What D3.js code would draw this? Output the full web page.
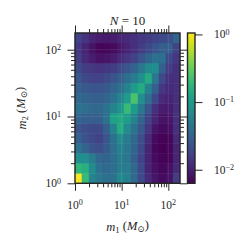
<!DOCTYPE html>
<html>
<head>
<meta charset="utf-8">
<script src="https://cdn.jsdelivr.net/npm/d3@7"></script>
<style>
body { margin: 0; background: #fff; }
svg { display: block; }
text { font-family: "Liberation Serif", "DejaVu Serif", serif; fill: #262626; }
</style>
</head>
<body>
<script>
// bin edges (solar masses), same for m1 and m2
var binEdges = [1, 1.41, 2, 2.82, 3.98, 5.62, 7.94, 11.2, 15.8, 22.4, 31.6, 44.7, 63.1, 89.1, 125.9, 177.8];

// fraction per cell, one array per m2 bin (bottom to top), across m1 bins
var row0  = [1.0, 0.197, 0.062, 0.048, 0.039, 0.043, 0.068, 0.058, 0.035, 0.0193, 0.0116, 0.0085, 0.0073, 0.0081, 0.0156];
var row1  = [0.178, 0.16, 0.072, 0.043, 0.035, 0.039, 0.053, 0.053, 0.035, 0.0193, 0.0105, 0.0077, 0.0069, 0.0077, 0.0116];
var row2  = [0.079, 0.079, 0.053, 0.035, 0.032, 0.039, 0.053, 0.048, 0.0288, 0.0174, 0.0105, 0.0073, 0.0066, 0.0069, 0.0105];
var row3  = [0.043, 0.032, 0.0236, 0.0213, 0.026, 0.039, 0.058, 0.048, 0.032, 0.0193, 0.0105, 0.0069, 0.0063, 0.0069, 0.0105];
var row4  = [0.0288, 0.0224, 0.0193, 0.0174, 0.0236, 0.043, 0.072, 0.053, 0.035, 0.0213, 0.0116, 0.0073, 0.0066, 0.0069, 0.0116];
var row5  = [0.0236, 0.0213, 0.0193, 0.0193, 0.0288, 0.062, 0.145, 0.072, 0.043, 0.026, 0.0141, 0.0085, 0.0073, 0.0077, 0.0127];
var row6  = [0.032, 0.0288, 0.0288, 0.0288, 0.043, 0.118, 0.132, 0.107, 0.062, 0.032, 0.0174, 0.0105, 0.0081, 0.0085, 0.0127];
var row7  = [0.043, 0.039, 0.035, 0.035, 0.043, 0.062, 0.088, 0.197, 0.102, 0.048, 0.0236, 0.0127, 0.0094, 0.0094, 0.0127];
var row8  = [0.035, 0.032, 0.0288, 0.0288, 0.032, 0.043, 0.062, 0.102, 0.24, 0.079, 0.039, 0.0193, 0.0116, 0.0105, 0.0127];
var row9  = [0.0288, 0.026, 0.0236, 0.0236, 0.026, 0.032, 0.039, 0.062, 0.102, 0.145, 0.062, 0.0288, 0.0141, 0.0116, 0.0127];
var row10 = [0.0236, 0.0193, 0.0174, 0.0174, 0.0193, 0.0236, 0.0288, 0.039, 0.053, 0.079, 0.145, 0.048, 0.0193, 0.0127, 0.0127];
var row11 = [0.0193, 0.0156, 0.0141, 0.0135, 0.0141, 0.0156, 0.0193, 0.0236, 0.032, 0.048, 0.072, 0.079, 0.0288, 0.0156, 0.0127];
var row12 = [0.0156, 0.0116, 0.0094, 0.0081, 0.0085, 0.0094, 0.0116, 0.0141, 0.0174, 0.0236, 0.032, 0.043, 0.039, 0.0193, 0.0141];
var row13 = [0.0141, 0.0105, 0.0081, 0.0069, 0.0069, 0.0073, 0.0085, 0.0105, 0.0127, 0.0156, 0.0193, 0.0236, 0.0288, 0.0288, 0.0174];
var row14 = [0.0174, 0.0135, 0.0105, 0.0094, 0.0089, 0.0094, 0.0105, 0.0116, 0.0127, 0.0141, 0.0156, 0.0174, 0.0193, 0.0213, 0.032];
var rows = [row0, row1, row2, row3, row4, row5, row6, row7, row8, row9, row10, row11, row12, row13, row14];

var majorTicks = [1, 10, 100];
var majorExp = ["0", "1", "2"];
var colorTicks = [1, 0.1, 0.01];
var colorExp = ["0", "\u22121", "\u22122"];
var colorDomain = [0.0063, 1.05];

var width = 250;
var height = 250;
var pLeft = 75, pRight = 180, pTop = 33, pBottom = 183.3;
var ink = "#262626";

var svg = d3.select("body")
    .append("svg")
    .attr("width", width)
    .attr("height", height);

var x = d3.scaleLog().domain([binEdges[0], binEdges[binEdges.length - 1]]).range([pLeft, pRight]);
var y = d3.scaleLog().domain([binEdges[0], binEdges[binEdges.length - 1]]).range([pBottom, pTop]);
var color = d3.scaleSequentialLog(d3.interpolateViridis).domain(colorDomain);

// cells
var cells = [];
rows.forEach(function (r, j) {
    r.forEach(function (v, i) { cells.push({ i: i, j: j, v: v }); });
});

svg.append("g")
    .selectAll("rect")
    .data(cells)
    .enter()
    .append("rect")
    .attr("x", function (d) { return x(binEdges[d.i]); })
    .attr("y", function (d) { return y(binEdges[d.j + 1]); })
    .attr("width", function (d) { return x(binEdges[d.i + 1]) - x(binEdges[d.i]); })
    .attr("height", function (d) { return y(binEdges[d.j]) - y(binEdges[d.j + 1]); })
    .attr("fill", function (d) { return color(d.v); })
    .attr("stroke", function (d) { return color(d.v); })
    .attr("stroke-width", 0.4);

// faint grid at the major ticks
var grid = svg.append("g").attr("stroke", "#fff").attr("stroke-opacity", 0.12).attr("stroke-width", 0.8);
majorTicks.slice(1).forEach(function (t) {
    grid.append("line").attr("x1", x(t)).attr("x2", x(t)).attr("y1", pTop).attr("y2", pBottom);
    grid.append("line").attr("x1", pLeft).attr("x2", pRight).attr("y1", y(t)).attr("y2", y(t));
});

// ticks on all four sides, pointing out
var minorX = x.ticks().filter(function (t) { return majorTicks.indexOf(t) < 0; });
var minorY = y.ticks().filter(function (t) { return majorTicks.indexOf(t) < 0; });

function styleAxis(g) {
    g.select(".domain").remove();
    g.selectAll("line").attr("stroke", ink).attr("stroke-width", 1);
}

[[d3.axisBottom, x, "translate(0," + pBottom + ")", minorX],
 [d3.axisTop, x, "translate(0," + pTop + ")", minorX],
 [d3.axisLeft, y, "translate(" + pLeft + ",0)", minorY],
 [d3.axisRight, y, "translate(" + pRight + ",0)", minorY]].forEach(function (a) {
    svg.append("g").attr("transform", a[2])
        .call(a[0](a[1]).tickValues(majorTicks).tickSize(7.5).tickFormat(""))
        .call(styleAxis);
    svg.append("g").attr("transform", a[2])
        .call(a[0](a[1]).tickValues(a[3]).tickSize(4).tickFormat(""))
        .call(styleAxis);
});

svg.append("rect")
    .attr("x", pLeft).attr("y", pTop)
    .attr("width", pRight - pLeft).attr("height", pBottom - pTop)
    .attr("fill", "none").attr("stroke", ink).attr("stroke-width", 1.4);

function powLabel(sel, exp) {
    sel.append("tspan").text("10");
    sel.append("tspan").attr("dy", "-0.45em").attr("font-size", "70%").text(exp);
}

majorTicks.forEach(function (t, k) {
    svg.append("text")
        .attr("x", x(t)).attr("y", 208.5)
        .attr("text-anchor", "middle")
        .attr("font-size", 11.5)
        .call(powLabel, majorExp[k]);
    svg.append("text")
        .attr("x", 61).attr("y", y(t) + 4)
        .attr("text-anchor", "end")
        .attr("font-size", 11.5)
        .call(powLabel, majorExp[k]);
});

// colorbar
var cbX = 187.5, cbW = 7.5;
var cy = d3.scaleLog().domain(colorDomain).range([pBottom, pTop]);
var grad = svg.append("defs").append("linearGradient")
    .attr("id", "cbar").attr("x1", 0).attr("x2", 0).attr("y1", 1).attr("y2", 0);
d3.range(0, 1.0001, 0.05).forEach(function (f) {
    grad.append("stop").attr("offset", f).attr("stop-color", d3.interpolateViridis(f));
});
svg.append("rect")
    .attr("x", cbX).attr("y", pTop)
    .attr("width", cbW).attr("height", pBottom - pTop)
    .attr("fill", "url(#cbar)")
    .attr("stroke", ink).attr("stroke-width", 1.4);

svg.append("g").attr("transform", "translate(" + (cbX + cbW) + ",0)")
    .call(d3.axisRight(cy).tickValues(colorTicks).tickSize(7.5).tickFormat(""))
    .call(styleAxis);

colorTicks.forEach(function (t, k) {
    svg.append("text")
        .attr("x", 214).attr("y", cy(t) + 4)
        .attr("text-anchor", "start")
        .attr("font-size", 11.5)
        .call(powLabel, colorExp[k]);
});

// title and axis labels
var title = svg.append("text")
    .attr("x", (pLeft + pRight) / 2).attr("y", 24.5)
    .attr("text-anchor", "middle")
    .attr("font-size", 13);
title.append("tspan").attr("font-style", "italic").text("N");
title.append("tspan").text(" = 10");

function massLabel(sel, sub) {
    sel.append("tspan").attr("font-style", "italic").text("m");
    sel.append("tspan").attr("font-size", "70%").attr("dy", "0.25em").text(sub);
    sel.append("tspan").attr("dy", "-0.25em").text(" (");
    sel.append("tspan").attr("font-style", "italic").text("M");
    sel.append("tspan").attr("font-size", "70%").attr("dy", "0.25em").text("\u2299");
    sel.append("tspan").attr("dy", "-0.25em").text(")");
}

svg.append("text")
    .attr("x", (pLeft + pRight) / 2).attr("y", 231)
    .attr("text-anchor", "middle")
    .attr("font-size", 12.5)
    .call(massLabel, "1");

svg.append("text")
    .attr("transform", "translate(26," + ((pTop + pBottom) / 2) + ") rotate(-90)")
    .attr("text-anchor", "middle")
    .attr("font-size", 12.5)
    .call(massLabel, "2");
</script>
</body>
</html>
